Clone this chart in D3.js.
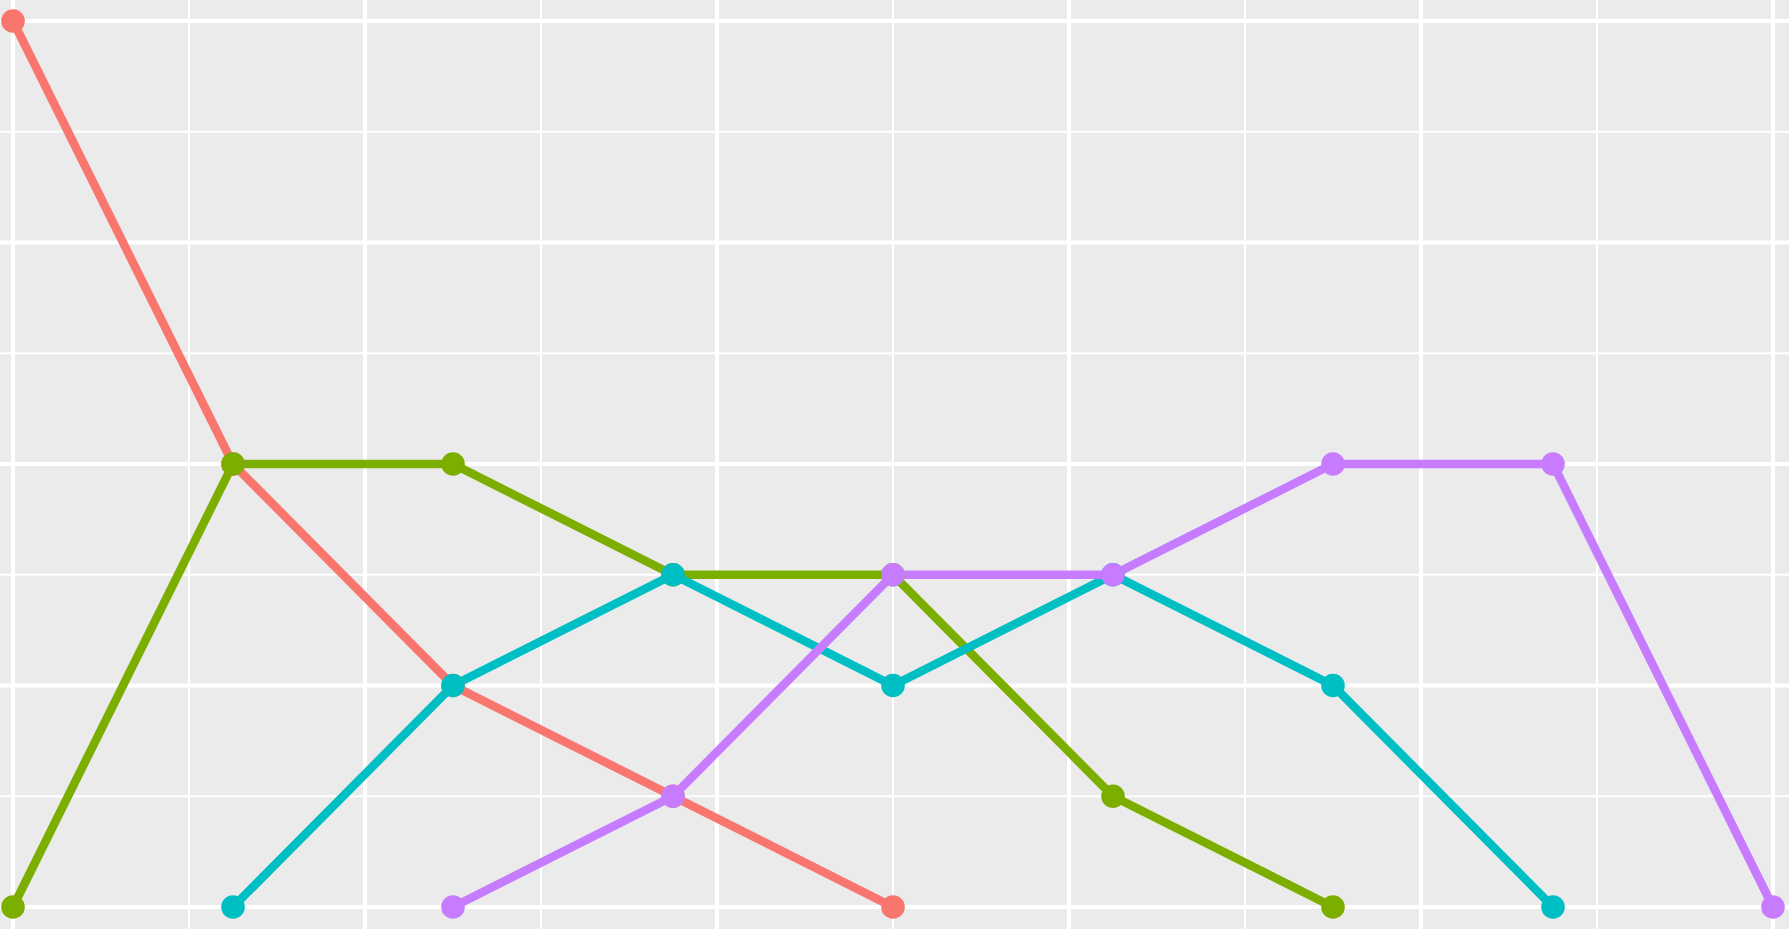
<!DOCTYPE html>
<html>
<head>
<meta charset="utf-8">
<script src="https://cdn.jsdelivr.net/npm/d3@7"></script>
<style>
  html, body { margin: 0; padding: 0; background: #fff; overflow: hidden; }
  svg { display: block; }
</style>
</head>
<body>
<svg id="chart"></svg>
<script>
// data: x steps of 1/8, y in [0, 1]
const seriesNames = ['a', 'b', 'c', 'd'];
const colours = ['#F8766D', '#7CAE00', '#00BFC4', '#C77CFF'];
const xA = [0, 0.125, 0.25, 0.375, 0.5];
const yA = [1, 0.5, 0.25, 0.125, 0];
const xB = [0, 0.125, 0.25, 0.375, 0.5, 0.625, 0.75];
const yB = [0, 0.5, 0.5, 0.375, 0.375, 0.125, 0];
const xC = [0.125, 0.25, 0.375, 0.5, 0.625, 0.75, 0.875];
const yC = [0, 0.25, 0.375, 0.25, 0.375, 0.25, 0];
const xD = [0.25, 0.375, 0.5, 0.625, 0.75, 0.875, 1];
const yD = [0, 0.125, 0.375, 0.375, 0.5, 0.5, 0];
const xMajor = [0, 0.2, 0.4, 0.6, 0.8, 1];
const xMinor = [0.1, 0.3, 0.5, 0.7, 0.9];
const yMajor = [0, 0.25, 0.5, 0.75, 1];
const yMinor = [0.125, 0.375, 0.625, 0.875];

const width = 1789, height = 929;
const series = [[xA, yA], [xB, yB], [xC, yC], [xD, yD]].map(([xs, ys], i) => ({
    name: seriesNames[i],
    colour: colours[i],
    points: xs.map((x, j) => ({ x, y: ys[j] }))
}));

const svg = d3.select('#chart').attr('width', width).attr('height', height);

const x = d3.scaleLinear().domain([0, 1]).range([13, 1773]);
const y = d3.scaleLinear().domain([0, 1]).range([907, 21]);

svg.append('rect')
    .attr('width', width)
    .attr('height', height)
    .attr('fill', '#EBEBEB');

const grid = svg.append('g').attr('stroke', '#fff');
grid.selectAll('line.ymin').data(yMinor).join('line')
    .attr('x1', 0).attr('x2', width)
    .attr('y1', d => y(d)).attr('y2', d => y(d))
    .attr('stroke-width', 2);
grid.selectAll('line.xmin').data(xMinor).join('line')
    .attr('y1', 0).attr('y2', height)
    .attr('x1', d => x(d)).attr('x2', d => x(d))
    .attr('stroke-width', 2);
grid.selectAll('line.ymaj').data(yMajor).join('line')
    .attr('x1', 0).attr('x2', width)
    .attr('y1', d => y(d)).attr('y2', d => y(d))
    .attr('stroke-width', 4);
grid.selectAll('line.xmaj').data(xMajor).join('line')
    .attr('y1', 0).attr('y2', height)
    .attr('x1', d => x(d)).attr('x2', d => x(d))
    .attr('stroke-width', 4);

const line = d3.line().x(d => x(d.x)).y(d => y(d.y));

svg.append('g').selectAll('path').data(series).join('path')
    .attr('d', d => line(d.points))
    .attr('fill', 'none')
    .attr('stroke', d => d.colour)
    .attr('stroke-width', 8.5);

svg.append('g').selectAll('g').data(series).join('g')
    .attr('fill', d => d.colour)
    .selectAll('circle').data(d => d.points).join('circle')
    .attr('cx', d => x(d.x))
    .attr('cy', d => y(d.y))
    .attr('r', 11.8);
</script>
</body>
</html>
